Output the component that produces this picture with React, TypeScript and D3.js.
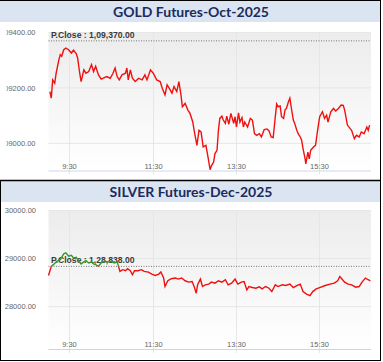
import * as d3 from "d3";

// ---- data ----
const goldTitle = "GOLD Futures-Oct-2025";
const silverTitle = "SILVER Futures-Dec-2025";

const goldPrevClose = 109370;
const silverPrevClose = 128838;

const goldYTicks = [109000, 109200, 109400];
const silverYTicks = [128000, 129000, 130000];
const xTickLabels = ["9:30", "11:30", "13:30", "15:30"];

const goldTimes = [
  "9:02", "9:04", "9:06", "9:09", "9:11", "9:15", "9:17", "9:19", "9:22", "9:25",
  "9:29", "9:33", "9:36", "9:40", "9:42", "9:45", "9:47", "9:51", "9:54", "9:58",
  "10:02", "10:05", "10:08", "10:12", "10:16", "10:19", "10:24", "10:29", "10:33", "10:36",
  "10:39", "10:42", "10:46", "10:51", "10:53", "10:55", "10:58", "11:01", "11:05", "11:10",
  "11:15", "11:19", "11:22", "11:27", "11:31", "11:36", "11:41", "11:44", "11:48", "11:51",
  "11:54", "11:58", "12:01", "12:05", "12:08", "12:11", "12:13", "12:17", "12:21", "12:24",
  "12:28", "12:30", "12:34", "12:37", "12:40", "12:43", "12:47", "12:50", "12:53", "12:55",
  "12:58", "13:00", "13:03", "13:05", "13:07", "13:10", "13:12", "13:15", "13:17", "13:20",
  "13:23", "13:27", "13:29", "13:31", "13:34", "13:36", "13:39", "13:41", "13:43", "13:47",
  "13:51", "13:54", "13:57", "14:00", "14:04", "14:07", "14:11", "14:15", "14:18", "14:21",
  "14:24", "14:27", "14:29", "14:31", "14:34", "14:36", "14:39", "14:41", "14:43", "14:46",
  "14:48", "14:51", "14:53", "14:55", "14:58", "15:00", "15:03", "15:05", "15:07", "15:10",
  "15:11", "15:14", "15:16", "15:18", "15:22", "15:25", "15:28", "15:31", "15:35", "15:38",
  "15:41", "15:43", "15:47", "15:51", "15:54", "15:58", "16:02", "16:05", "16:07", "16:11",
  "16:15", "16:17", "16:21", "16:24", "16:28", "16:31", "16:35", "16:39", "16:41", "16:43",
];
const goldValues = [
  109187, 109163, 109229, 109217, 109253, 109302, 109320, 109314, 109338, 109344,
  109338, 109326, 109336, 109324, 109308, 109253, 109223, 109265, 109253, 109259,
  109284, 109259, 109278, 109247, 109232, 109235, 109241, 109235, 109253, 109272,
  109241, 109229, 109247, 109253, 109272, 109229, 109265, 109235, 109223, 109235,
  109229, 109247, 109229, 109265, 109253, 109229, 109223, 109199, 109175, 109211,
  109199, 109181, 109205, 109187, 109223, 109175, 109132, 109144, 109120, 109108,
  109077, 109047, 108993, 109047, 109041, 108987, 108993, 108950, 108905, 108920,
  108932, 108963, 108975, 109047, 109090, 109098, 109084, 109072, 109098, 109069,
  109108, 109072, 109096, 109059, 109110, 109077, 109093, 109059, 109077, 109059,
  109090, 109084, 109035, 109029, 109035, 109023, 109050, 109052, 109045, 109023,
  109021, 109096, 109142, 109132, 109135, 109096, 109090, 109120, 109126, 109150,
  109163, 109114, 109084, 109072, 109047, 109035, 109023, 109011, 108981, 108944,
  108926, 108968, 108944, 108975, 108987, 108993, 109047, 109096, 109114, 109090,
  109102, 109077, 109114, 109126, 109117, 109126, 109138, 109137, 109120, 109066,
  109053, 109047, 109017, 109029, 109023, 109041, 109035, 109059, 109047, 109066,
];

const silverTimes = [
  "9:00", "9:04", "9:07", "9:12", "9:17", "9:22", "9:25", "9:29", "9:33", "9:36",
  "9:40", "9:43", "9:47", "9:51", "9:54", "9:58", "10:02", "10:05", "10:08", "10:12",
  "10:16", "10:21", "10:26", "10:30", "10:35", "10:39", "10:41", "10:43", "10:47", "10:51",
  "10:54", "10:58", "11:01", "11:04", "11:09", "11:14", "11:18", "11:24", "11:29", "11:34",
  "11:39", "11:42", "11:46", "11:48", "11:52", "11:57", "12:03", "12:07", "12:12", "12:17",
  "12:22", "12:27", "12:30", "12:33", "12:35", "12:39", "12:42", "12:46", "12:51", "12:55",
  "13:00", "13:05", "13:10", "13:15", "13:19", "13:24", "13:29", "13:33", "13:38", "13:42",
  "13:46", "13:49", "13:54", "13:59", "14:04", "14:08", "14:13", "14:18", "14:22", "14:27",
  "14:31", "14:37", "14:42", "14:48", "14:53", "14:58", "15:03", "15:07", "15:12", "15:17",
  "15:21", "15:26", "15:31", "15:39", "15:46", "15:52", "15:57", "16:00", "16:04", "16:07",
  "16:12", "16:17", "16:23", "16:28", "16:32", "16:37", "16:41", "16:44",
];
const silverValues = [
  128650, 128838, 128874, 128943, 128979, 129098, 129119, 129048, 129069, 129015,
  129027, 128958, 128889, 128931, 128958, 128910, 128931, 128889, 128874, 128838,
  128910, 128943, 128931, 128943, 128910, 128931, 128838, 128734, 128769, 128748,
  128790, 128748, 128664, 128748, 128748, 128769, 128734, 128720, 128678, 128650,
  128678, 128720, 128595, 128419, 128539, 128581, 128595, 128574, 128595, 128539,
  128511, 128524, 128419, 128280, 128455, 128574, 128419, 128455, 128469, 128511,
  128490, 128539, 128511, 128560, 128455, 128490, 128574, 128469, 128511, 128524,
  128350, 128419, 128398, 128384, 128412, 128371, 128419, 128384, 128314, 128455,
  128419, 128455, 128440, 128469, 128398, 128440, 128469, 128314, 128260, 128231,
  128314, 128371, 128398, 128440, 128469, 128490, 128539, 128629, 128560, 128511,
  128469, 128455, 128406, 128419, 128511, 128595, 128560, 128539,
];

const W = 383;
const H = 362;
const PLOT_L = 48.5;
const PLOT_R = 371;
const LABEL_FONT = "'Liberation Sans', Arial, sans-serif";

const toDate = (t: string) => {
  const [h, m] = t.split(":").map(Number);
  return new Date(2025, 9, 1, h, m);
};

const xScale = d3
  .scaleTime()
  .domain([toDate("9:00"), toDate("16:45")])
  .range([PLOT_L, PLOT_R]);

const fmtNum = (v: number) => v.toFixed(2);
const fmtIndian = (v: number) => {
  const s = Math.round(v).toString();
  const last3 = s.slice(-3);
  const rest = s.slice(0, -3).replace(/\B(?=(\d{2})+(?!\d))/g, ",");
  return (rest ? rest + "," : "") + last3 + ".00";
};

type PanelProps = {
  id: string;
  top: number;
  title: string;
  times: string[];
  values: number[];
  prevClose: number;
  yTicks: number[];
  yDomain: [number, number];
  plotTop: number;
  plotBottom: number;
  labelRight: number;
  labelClip: number;
};

function Panel(p: PanelProps) {
  const y = d3.scaleLinear().domain(p.yDomain).range([p.plotBottom, p.plotTop]);
  const pts = p.times.map((t, i) => ({ t: toDate(t), v: p.values[i] }));
  const path = d3
    .line<{ t: Date; v: number }>()
    .x((d) => xScale(d.t))
    .y((d) => y(d.v))(pts) as string;
  const pcY = y(p.prevClose);
  const plotW = PLOT_R - PLOT_L;

  return (
    <g>
      <defs>
        <linearGradient id={`bg-${p.id}`} x1="0" y1="0" x2="0" y2="1">
          <stop offset="0" stopColor="#ececec" />
          <stop offset="1" stopColor="#ffffff" />
        </linearGradient>
        <clipPath id={`up-${p.id}`}>
          <rect x={PLOT_L - 2} y={p.top} width={plotW + 4} height={pcY - p.top} />
        </clipPath>
        <clipPath id={`dn-${p.id}`}>
          <rect x={PLOT_L - 2} y={pcY} width={plotW + 4} height={p.plotBottom - pcY + 2} />
        </clipPath>
        <clipPath id={`lbl-${p.id}`}>
          <rect x={p.labelClip} y={p.top} width={45} height={180} />
        </clipPath>
      </defs>

      {/* title band */}
      <rect x={0} y={p.top} width={380} height={21} fill="#dbe5f1" />
      <text
        x={191}
        y={p.top + 16}
        textAnchor="middle"
        fontFamily="Lato, 'Open Sans', sans-serif"
        fontWeight={700}
        fontSize={14}
        fill="#1c2b5e"
      >
        {p.title}
      </text>

      {/* plot background */}
      <rect
        x={PLOT_L}
        y={p.plotTop}
        width={plotW}
        height={p.plotBottom - p.plotTop}
        fill={`url(#bg-${p.id})`}
      />

      {/* horizontal grid */}
      {p.yTicks.map((v) => (
        <line
          key={v}
          x1={PLOT_L}
          x2={PLOT_R}
          y1={y(v)}
          y2={y(v)}
          stroke="#e6e6e6"
          strokeWidth={1}
        />
      ))}

      {/* vertical grid + x ticks */}
      {xTickLabels.map((t) => {
        const x = Math.round(xScale(toDate(t))) + 0.5;
        return (
          <g key={t}>
            <line x1={x} x2={x} y1={p.plotTop} y2={p.plotBottom + 4} stroke="#e6e6e6" />
            <text
              x={x}
              y={p.plotBottom - 2}
              textAnchor="middle"
              fontFamily={LABEL_FONT}
              fontSize={7.5}
              fill="#666"
            >
              {t}
            </text>
          </g>
        );
      })}

      {/* x axis line */}
      <line
        x1={PLOT_L}
        x2={PLOT_R}
        y1={p.plotBottom + 0.5}
        y2={p.plotBottom + 0.5}
        stroke="#ccd6eb"
      />

      {/* y labels (clipped at the left edge like the source) */}
      <g clipPath={`url(#lbl-${p.id})`}>
        {p.yTicks.map((v) => (
          <text
            key={v}
            x={p.labelRight}
            y={y(v) + 2.6}
            textAnchor="end"
            fontFamily={LABEL_FONT}
            fontSize={7.5}
            fill="#666"
          >
            {fmtNum(v)}
          </text>
        ))}
      </g>

      {/* previous close */}
      <line
        x1={PLOT_L}
        x2={PLOT_R}
        y1={pcY}
        y2={pcY}
        stroke="#777"
        strokeWidth={1}
        strokeDasharray="1,1.5"
      />
      <text
        x={PLOT_L + 2.5}
        y={pcY - 3}
        fontFamily={LABEL_FONT}
        fontWeight={700}
        fontSize={8.6}
        fill="#3a3a3a"
      >
        {`P.Close : ${fmtIndian(p.prevClose)}`}
      </text>

      {/* price line, green above prev close, red below */}
      <path
        d={path}
        fill="none"
        stroke="#2f9a2f"
        strokeWidth={1.4}
        clipPath={`url(#up-${p.id})`}
      />
      <path
        d={path}
        fill="none"
        stroke="#f01010"
        strokeWidth={1.4}
        clipPath={`url(#dn-${p.id})`}
      />
    </g>
  );
}

export default function App() {
  return (
    <svg
      width={W}
      height={H}
      style={{ position: "absolute", left: 0, top: 0, background: "#fff" }}
    >
      <rect x={0} y={0} width={W} height={H} fill="#fff" />
      <Panel
        id="gold"
        top={1}
        title={goldTitle}
        times={goldTimes}
        values={goldValues}
        prevClose={goldPrevClose}
        yTicks={goldYTicks}
        yDomain={[108902, 109400]}
        plotTop={32.5}
        plotBottom={170.5}
        labelRight={35.5}
        labelClip={6.5}
      />
      <Panel
        id="silver"
        top={181}
        title={silverTitle}
        times={silverTimes}
        values={silverValues}
        prevClose={silverPrevClose}
        yTicks={silverYTicks}
        yDomain={[127120, 130000]}
        plotTop={210.5}
        plotBottom={349}
        labelRight={36}
        labelClip={5}
      />
      {/* frame */}
      <line x1={0} x2={381} y1={0.5} y2={0.5} stroke="#000" />
      <line x1={380.5} x2={380.5} y1={0} y2={361} stroke="#000" />
      <line x1={0} x2={381} y1={180.5} y2={180.5} stroke="#000" strokeWidth={1.5} />
      <line x1={0.5} x2={0.5} y1={180} y2={361} stroke="#000" />
      <line x1={0} x2={381} y1={360.5} y2={360.5} stroke="#000" />
    </svg>
  );
}
